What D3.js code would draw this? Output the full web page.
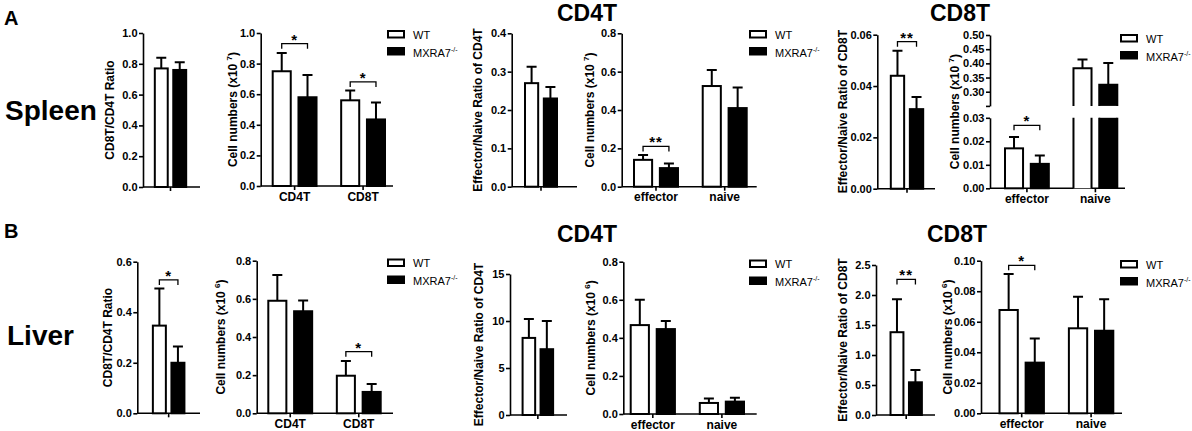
<!DOCTYPE html>
<html>
<head>
<meta charset="utf-8">
<script src="https://cdn.jsdelivr.net/npm/d3@7"></script>
<style>
  body { margin: 0; background: #fff; }
  svg { display: block; }
</style>
</head>
<body>
<svg id="fig" width="1192" height="431"></svg>
<script>
// ---- data (each group is [WT, MXRA7-/-]) ----
const seriesNames = ["WT", "MXRA7"];
const ratioGroup = [""];
const cellGroups = ["CD4T", "CD8T"];
const subsetGroups = ["effector", "naive"];

// spleen
const spleenRatioMean = [[0.77, 0.76]];
const spleenRatioSD = [[0.07, 0.05]];
const spleenCellMean = [[0.75, 0.58], [0.56, 0.435]];
const spleenCellSD = [[0.12, 0.145], [0.065, 0.11]];
const spleenCD4RatioMean = [[0.27, 0.23]];
const spleenCD4RatioSD = [[0.043, 0.03]];
const spleenCD4CellMean = [[0.14, 0.097], [0.525, 0.41]];
const spleenCD4CellSD = [[0.025, 0.024], [0.083, 0.107]];
const spleenCD8RatioMean = [[0.044, 0.031]];
const spleenCD8RatioSD = [[0.0097, 0.0047]];
const spleenCD8CellMean = [[0.017, 0.0104], [0.383, 0.325]];
const spleenCD8CellSD = [[0.0048, 0.0036], [0.031, 0.076]];

// liver
const liverRatioMean = [[0.347, 0.20]];
const liverRatioSD = [[0.147, 0.064]];
const liverCellMean = [[0.59, 0.535], [0.197, 0.112]];
const liverCellSD = [[0.135, 0.057], [0.077, 0.041]];
const liverCD4RatioMean = [[8.2, 7.0]];
const liverCD4RatioSD = [[2.0, 3.0]];
const liverCD4CellMean = [[0.467, 0.446], [0.058, 0.065]];
const liverCD4CellSD = [[0.133, 0.042], [0.023, 0.021]];
const liverCD8RatioMean = [[1.38, 0.545]];
const liverCD8RatioSD = [[0.55, 0.205]];
const liverCD8CellMean = [[0.0677, 0.0332], [0.0557, 0.0541]];
const liverCD8CellSD = [[0.0236, 0.0158], [0.0207, 0.0206]];

// significance: [group index, stars, bracket value]
const spleenCellSig = [[0, "*", 0.93], [1, "*", 0.68]];
const spleenCD4CellSig = [[0, "**", 0.21]];
const spleenCD8RatioSig = [[0, "**", 0.0573]];
const spleenCD8CellSig = [[0, "*", 0.0268]];
const liverRatioSig = [[0, "*", 0.528]];
const liverCellSig = [[1, "*", 0.323]];
const liverCD8RatioSig = [[0, "**", 2.26]];
const liverCD8CellSig = [[0, "*", 0.097]];

// tick values
const ticksTo1 = [0, 0.2, 0.4, 0.6, 0.8, 1.0];
const ticksTo04 = [0, 0.1, 0.2, 0.3, 0.4];
const ticksTo08 = [0, 0.2, 0.4, 0.6, 0.8];
const ticksTo006 = [0, 0.02, 0.04, 0.06];
const ticksLow003 = [0, 0.01, 0.02, 0.03];
const ticksHigh05 = [0.25, 0.30, 0.35, 0.40, 0.45, 0.50];
const ticksTo06 = [0, 0.2, 0.4, 0.6];
const ticksTo15 = [0, 5, 10, 15];
const ticksTo25 = [0, 0.5, 1.0, 1.5, 2.0, 2.5];
const ticksTo01 = [0, 0.02, 0.04, 0.06, 0.08, 0.10];

// ---- layout ----
const font = '"Liberation Sans", Arial, Helvetica, sans-serif';
const svg = d3.select("#fig").attr("font-family", font);

const panels = [
  {groups: ratioGroup, mean: spleenRatioMean, sd: spleenRatioSD, sig: [], ticks: ticksTo1, fmt: ".1f", max: 1,
   label: "CD8T/CD4T Ratio", ax: 143, axEnd: 200, bx: [146, 195], yTop: 33, yBot: 187, lx: 110},
  {groups: cellGroups, mean: spleenCellMean, sd: spleenCellSD, sig: spleenCellSig, ticks: ticksTo1, fmt: ".1f", max: 1,
   label: "Cell numbers (x10 ", sup: "7", ax: 260.7, axEnd: 393, bx: [272.7, 385], yTop: 33, yBot: 186, lx: 233},
  {groups: ratioGroup, mean: spleenCD4RatioMean, sd: spleenCD4RatioSD, sig: [], ticks: ticksTo04, fmt: ".1f", max: 0.4,
   label: "Effector/Naive Ratio of CD4T", ax: 511.7, axEnd: 577, bx: [516, 566], yTop: 33.3, yBot: 186.7, lx: 478},
  {groups: subsetGroups, mean: spleenCD4CellMean, sd: spleenCD4CellSD, sig: spleenCD4CellSig, ticks: ticksTo08, fmt: ".1f", max: 0.8,
   label: "Cell numbers (x10 ", sup: "7", ax: 621.7, axEnd: 756.7, bx: [634, 746.7], yTop: 33.3, yBot: 186.7, lx: 590},
  {groups: ratioGroup, mean: spleenCD8RatioMean, sd: spleenCD8RatioSD, sig: spleenCD8RatioSig, ticks: ticksTo006, fmt: ".2f", max: 0.06,
   label: "Effector/Naive Ratio of CD8T", ax: 877.3, axEnd: 935, bx: [881.7, 932.3], yTop: 34.7, yBot: 188.7, lx: 843},
  {groups: subsetGroups, mean: spleenCD8CellMean, sd: spleenCD8CellSD, sig: spleenCD8CellSig, ticks: ticksLow003, fmt: ".2f", max: 0.03,
   label: "Cell numbers (x10 ", sup: "7", ax: 990, axEnd: 1125, bx: [1005, 1117.3], yTop: 117.8, yBot: 188.3, lx: 955,
   broken: {ticks: ticksHigh05, min: 0.25, max: 0.5, yTop: 35, yBot: 105.9}},

  {groups: ratioGroup, mean: liverRatioMean, sd: liverRatioSD, sig: liverRatioSig, ticks: ticksTo06, fmt: ".1f", max: 0.6,
   label: "CD8T/CD4T Ratio", ax: 137.3, axEnd: 200, bx: [144, 193.3], yTop: 261.7, yBot: 413.3, lx: 108},
  {groups: cellGroups, mean: liverCellMean, sd: liverCellSD, sig: liverCellSig, ticks: ticksTo08, fmt: ".1f", max: 0.8,
   label: "Cell numbers (x10 ", sup: "6", ax: 256.7, axEnd: 393, bx: [268.3, 380.7], yTop: 260.7, yBot: 413.3, lx: 221},
  {groups: ratioGroup, mean: liverCD4RatioMean, sd: liverCD4RatioSD, sig: [], ticks: ticksTo15, fmt: "d", max: 15,
   label: "Effector/Naive Ratio of CD4T", ax: 510, axEnd: 567, bx: [514, 561.7], yTop: 274, yBot: 415, lx: 479},
  {groups: subsetGroups, mean: liverCD4CellMean, sd: liverCD4CellSD, sig: [], ticks: ticksTo08, fmt: ".1f", max: 0.8,
   label: "Cell numbers (x10 ", sup: "6", ax: 623.3, axEnd: 756.7, bx: [630.7, 744], yTop: 261.7, yBot: 414, lx: 591},
  {groups: ratioGroup, mean: liverCD8RatioMean, sd: liverCD8RatioSD, sig: liverCD8RatioSig, ticks: ticksTo25, fmt: ".1f", max: 2.5,
   label: "Effector/Naive Ratio of CD8T", ax: 876, axEnd: 935, bx: [881.7, 930.7], yTop: 265, yBot: 415, lx: 843},
  {groups: subsetGroups, mean: liverCD8CellMean, sd: liverCD8CellSD, sig: liverCD8CellSig, ticks: ticksTo01, fmt: ".2f", max: 0.1,
   label: "Cell numbers (x10 ", sup: "6", ax: 981, axEnd: 1122, bx: [999.5, 1113.3], yTop: 260.7, yBot: 413.3, lx: 948}
];

const legends = [[387, 30], [749, 30], [1120, 34], [387, 258.5], [749, 259.5], [1120, 260]];
const titles = [["CD4T", 587, 21], ["CD8T", 960, 21], ["CD4T", 587, 242], ["CD8T", 957, 242]];
const rowLabels = [["A", 4, 25, 20], ["Spleen", 5, 120, 28], ["B", 4, 238, 20], ["Liver", 7, 345, 28]];

function styleAxis(a) {
  a.attr("font-family", font).attr("font-size", 11).attr("font-weight", "bold");
  a.select(".domain").attr("stroke-width", 1.6);
  a.selectAll(".tick line").attr("stroke-width", 1.6);
  a.selectAll(".tick text").attr("fill", "#000");
}

function drawPanel(p) {
  const g = svg.append("g");
  const low = d3.scaleLinear().domain([0, p.max]).range([p.yBot, p.yTop]);
  const high = p.broken ? d3.scaleLinear().domain([p.broken.min, p.broken.max]).range([p.broken.yBot, p.broken.yTop]) : null;
  const y = v => (high && v > p.max) ? high(v) : low(v);

  const x = d3.scaleBand().domain(p.groups).range(p.bx).paddingInner(0.36).paddingOuter(0);
  const xi = d3.scaleBand().domain([0, 1]).range([0, x.bandwidth()]).paddingInner(0.3);
  const bw = xi.bandwidth();

  // y axis
  const fmt = d3.format(p.fmt);
  styleAxis(g.append("g").attr("transform", `translate(${p.ax},0)`)
    .call(d3.axisLeft(low).tickValues(p.ticks).tickFormat(fmt).tickSize(4).tickPadding(1.5).tickSizeOuter(0)));
  if (high) {
    styleAxis(g.append("g").attr("transform", `translate(${p.ax},0)`)
      .call(d3.axisLeft(high).tickValues(p.broken.ticks)
        .tickFormat(v => v === p.broken.min ? "" : fmt(v)).tickSize(4).tickPadding(1.5).tickSizeOuter(0)));
  }

  // x axis line and group ticks
  g.append("line").attr("x1", p.ax).attr("x2", p.axEnd).attr("y1", p.yBot).attr("y2", p.yBot)
    .attr("stroke", "#000").attr("stroke-width", 1.6);
  p.groups.forEach(grp => {
    const cx = x(grp) + x.bandwidth() / 2;
    g.append("line").attr("x1", cx).attr("x2", cx).attr("y1", p.yBot).attr("y2", p.yBot + 4)
      .attr("stroke", "#000").attr("stroke-width", 1.6);
    if (grp) {
      g.append("text").attr("x", cx).attr("y", p.yBot + 14.5).attr("text-anchor", "middle")
        .attr("font-size", 12).attr("font-weight", "bold").text(grp);
    }
  });

  // bars and error bars
  p.groups.forEach((grp, gi) => {
    [0, 1].forEach(s => {
      const m = p.mean[gi][s], e = p.sd[gi][s];
      const x0 = x(grp) + xi(s);
      const fill = s === 0 ? "#fff" : "#000";
      if (high && m > p.max) {
        const ub = p.broken.yBot, lt = p.yTop;
        g.append("rect").attr("x", x0).attr("y", y(m)).attr("width", bw).attr("height", ub - y(m)).attr("fill", fill);
        g.append("rect").attr("x", x0).attr("y", lt).attr("width", bw).attr("height", p.yBot - lt).attr("fill", fill);
        g.append("path").attr("d", `M${x0},${ub}V${y(m)}H${x0 + bw}V${ub}M${x0},${lt}V${p.yBot}M${x0 + bw},${lt}V${p.yBot}`)
          .attr("fill", "none").attr("stroke", "#000").attr("stroke-width", 2);
      } else {
        g.append("rect").attr("x", x0).attr("y", y(m)).attr("width", bw).attr("height", p.yBot - y(m))
          .attr("fill", fill).attr("stroke", "#000").attr("stroke-width", 2);
      }
      const cx = x0 + bw / 2, yt = y(m + e);
      g.append("path").attr("d", `M${cx},${y(m)}V${yt}M${cx - 5},${yt}H${cx + 5}`)
        .attr("fill", "none").attr("stroke", "#000").attr("stroke-width", 2);
    });
  });

  // significance brackets
  p.sig.forEach(([gi, stars, v]) => {
    const grp = p.groups[gi];
    const c0 = x(grp) + xi(0) + bw / 2, c1 = x(grp) + xi(1) + bw / 2, by = y(v);
    g.append("path").attr("d", `M${c0},${by + 5}V${by}H${c1}V${by + 5}`)
      .attr("fill", "none").attr("stroke", "#000").attr("stroke-width", 1.3);
    g.append("text").attr("x", (c0 + c1) / 2).attr("y", by + 1).attr("text-anchor", "middle")
      .attr("font-size", 15).attr("font-weight", "bold").attr("letter-spacing", 1).text(stars);
  });

  // y label
  const cy = (p.yBot + (p.broken ? p.broken.yTop : p.yTop)) / 2;
  const t = g.append("text").attr("transform", `translate(${p.lx},${cy}) rotate(-90)`)
    .attr("text-anchor", "middle").attr("dy", "0.35em").attr("font-size", 12).attr("font-weight", "bold");
  if (p.sup) {
    t.append("tspan").text(p.label);
    t.append("tspan").attr("font-size", 8).attr("dy", -5).text(p.sup);
    t.append("tspan").attr("dy", 5).text(")");
  } else {
    t.text(p.label);
  }
}

panels.forEach(drawPanel);

// legends
legends.forEach(([lx, ly]) => {
  const lg = svg.append("g").attr("transform", `translate(${lx},${ly})`);
  lg.append("rect").attr("x", 1).attr("y", 1).attr("width", 16).attr("height", 6.5)
    .attr("fill", "#fff").attr("stroke", "#000").attr("stroke-width", 2);
  lg.append("rect").attr("x", 0).attr("y", 17).attr("width", 18).attr("height", 8.5).attr("fill", "#000");
  lg.append("text").attr("x", 26).attr("y", 8.5).attr("font-size", 11).text(seriesNames[0]);
  const kt = lg.append("text").attr("x", 26).attr("y", 26.5).attr("font-size", 11);
  kt.append("tspan").text(seriesNames[1]);
  kt.append("tspan").attr("font-size", 7).attr("dy", -5).text("-/-");
});

// titles and row labels
titles.forEach(([txt, tx, ty]) => {
  svg.append("text").attr("x", tx).attr("y", ty).attr("text-anchor", "middle")
    .attr("font-size", 23).attr("font-weight", "bold").text(txt);
});
rowLabels.forEach(([txt, tx, ty, fs]) => {
  svg.append("text").attr("x", tx).attr("y", ty).attr("font-size", fs).attr("font-weight", "bold").text(txt);
});
</script>
</body>
</html>
